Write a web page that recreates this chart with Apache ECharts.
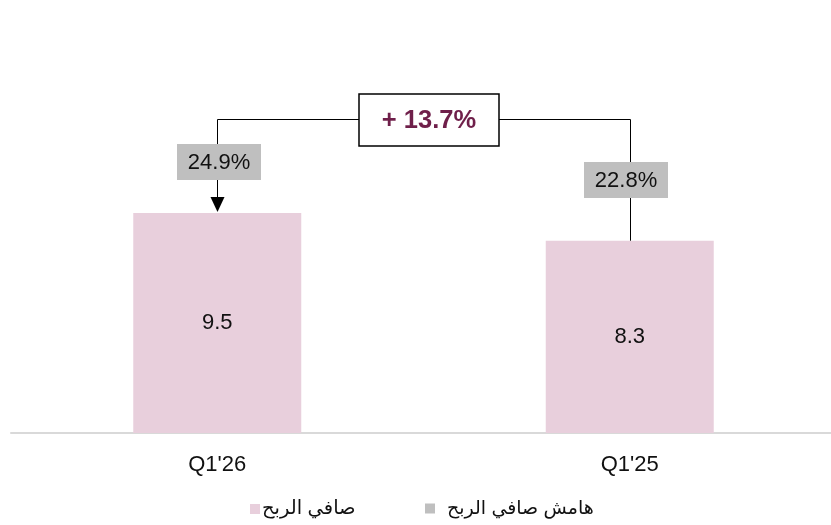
<!DOCTYPE html>
<html>
<head>
<meta charset="utf-8">
<script src="https://cdn.jsdelivr.net/npm/echarts@6/dist/echarts.min.js"></script>
<style>
  html, body { margin: 0; padding: 0; background: #fff; }
  #chart { width: 831px; height: 525px; }
</style>
</head>
<body>
<div id="chart"></div>
<script>
// data
const categories = ["Q1'26", "Q1'25"];
const netProfit = [9.5, 8.3];
const netMargin = [24.9, 22.8];
const growthLabel = '+ 13.7%';
const legendNames = ['صافي الربح', 'هامش صافي الربح'];

const FONT = 'Arial, "Liberation Sans", "DejaVu Sans", sans-serif';
const PINK = '#e8cfdc';
const GREY = '#bfbfbf';

var myChart = echarts.init(document.getElementById('chart'));

// snap to pixel centre so 1px lines stay crisp
function px(v) { return Math.round(v) + 0.5; }

function renderConnector(params, api) {
    if (params.dataIndex !== 0) return;
    var p0 = api.coord([0, netProfit[0]]);
    var p1 = api.coord([1, netProfit[1]]);
    var x0 = px(p0[0]), x1 = px(p1[0]);
    var topY = px(Math.min(p0[1], p1[1]) - 94);
    var midX = Math.round((p0[0] + p1[0]) / 2 + 5);
    var children = [];
    // connector line
    children.push({
        type: 'polyline',
        shape: { points: [[x1, p1[1]], [x1, topY], [x0, topY], [x0, p0[1] - 15]] },
        style: { stroke: '#000', lineWidth: 1, fill: null }
    });
    // arrow head
    children.push({
        type: 'polygon',
        shape: { points: [[x0 - 7, p0[1] - 16], [x0 + 7, p0[1] - 16], [x0, p0[1] - 1]] },
        style: { fill: '#000' }
    });
    // growth box
    children.push({
        type: 'rect',
        shape: { x: midX - 70, y: Math.round(topY) - 26, width: 140, height: 52 },
        style: { fill: '#fff', stroke: '#000', lineWidth: 1.5 }
    });
    children.push({
        type: 'text',
        style: {
            text: growthLabel, x: midX, y: topY + 1, align: 'center', verticalAlign: 'middle',
            fontSize: 25.5, fontWeight: 'bold', fill: '#6f1f4a', fontFamily: FONT
        }
    });
    // margin labels
    var pts = [p0, p1];
    var offs = [-4, 0];
    pts.forEach(function (p, i) {
        var cy = Math.round((topY + p[1]) / 2 + offs[i]);
        var cx = Math.round(p[0] + (i === 0 ? 2 : -4));
        children.push({
            type: 'rect',
            shape: { x: cx - 42, y: cy - 18, width: 84, height: 36 },
            style: { fill: GREY }
        });
        children.push({
            type: 'text',
            style: {
                text: netMargin[i].toFixed(1) + '%', x: cx, y: cy + 1, align: 'center', verticalAlign: 'middle',
                fontSize: 22, fill: '#111', fontFamily: FONT
            }
        });
    });
    return { type: 'group', children: children };
}

var legendBase = {
    top: 494,
    itemWidth: 10,
    itemHeight: 10,
    itemGap: 0
};

var option = {
    backgroundColor: '#fff',
    animation: false,
    textStyle: { fontFamily: FONT },
    grid: { left: 11, right: -5, top: 16, bottom: 92, outerBoundsMode: 'none' },
    legend: [
        Object.assign({}, legendBase, {
            left: 245,
            textStyle: { fontSize: 19.5, color: '#111', fontFamily: FONT, padding: [0, 0, 0, -3] },
            data: [{ name: legendNames[0], icon: 'rect', itemStyle: { color: PINK } }]
        }),
        Object.assign({}, legendBase, {
            left: 420,
            textStyle: { fontSize: 19, color: '#111', fontFamily: FONT, padding: [0, 0, 0, 7] },
            data: [{ name: legendNames[1], icon: 'rect', itemStyle: { color: GREY } }]
        })
    ],
    xAxis: {
        type: 'category',
        data: categories,
        axisLine: { lineStyle: { color: '#d9d9d9', width: 2 } },
        axisTick: { show: false },
        axisLabel: { fontSize: 22, color: '#111', margin: 21 }
    },
    yAxis: {
        type: 'value',
        min: 0,
        max: 18,
        show: false,
        splitLine: { show: false }
    },
    series: [
        {
            name: legendNames[0],
            type: 'bar',
            data: netProfit,
            barWidth: 168,
            itemStyle: { color: PINK },
            label: {
                show: true,
                position: 'inside',
                fontSize: 22,
                color: '#111',
                formatter: function (p) { return p.value.toFixed(1); }
            }
        },
        {
            name: legendNames[1],
            type: 'custom',
            clip: false,
            itemStyle: { color: GREY },
            renderItem: renderConnector,
            data: categories.map(function (c, i) { return [i, 0]; }),
            z: 5
        }
    ]
};

option && myChart.setOption(option);
</script>
</body>
</html>
